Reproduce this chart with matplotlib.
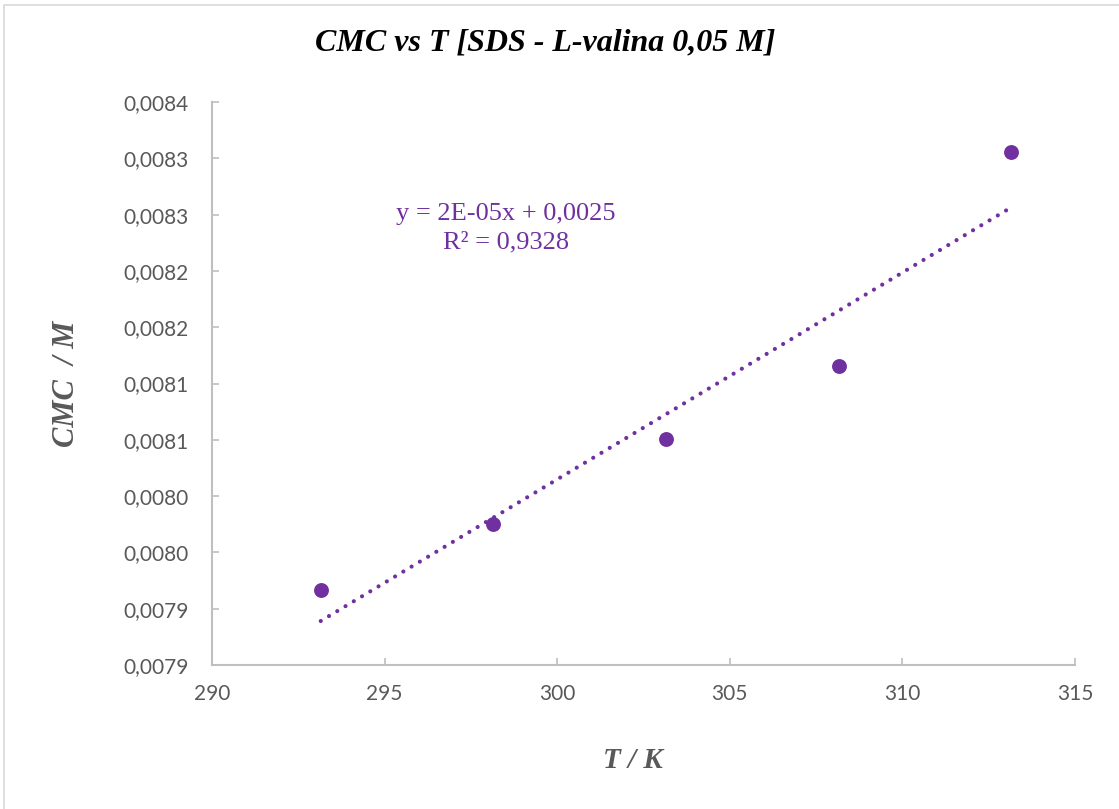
import numpy as np
import matplotlib
matplotlib.use("Agg")
import matplotlib.pyplot as plt
from matplotlib.patches import Rectangle

# Temperature (K) and critical micelle concentration (M)
temperature = [293.15, 298.15, 303.15, 308.15, 313.15]
cmc = [0.0079166, 0.0079752, 0.0080507, 0.0081155, 0.0083056]

xticks = [290, 295, 300, 305, 310, 315]
xtick_labels = ["290", "295", "300", "305", "310", "315"]
yticks = [0.00785, 0.00790, 0.00795, 0.00800, 0.00805, 0.00810,
          0.00815, 0.00820, 0.00825, 0.00830, 0.00835]
ytick_labels = ["0,0079", "0,0079", "0,0080", "0,0080", "0,0081", "0,0081",
                "0,0082", "0,0082", "0,0083", "0,0083", "0,0084"]

title = "CMC vs T [SDS - L-valina 0,05 M]"
xlabel = "T / K"
ylabel = "CMC  / M"
eq_text = "y = 2E-05x + 0,0025\nR² = 0,9328"

purple = "#7030A0"
grey_text = "#595959"
axis_grey = "#BFBFBF"

W, H = 1119, 809
fig = plt.figure(figsize=(W / 100, H / 100), dpi=100)
fig.patch.set_facecolor("white")

# thin frame around the chart area
fig.add_artist(Rectangle((4 / W, -0.01), 1.02, 1 - 5 / H + 0.01,
                         transform=fig.transFigure, fill=False,
                         edgecolor="#D9D9D9", linewidth=1.2))

ax = fig.add_axes([212 / W, 1 - 665 / H, (1075 - 212) / W, (665 - 102) / H])
ax.set_xlim(290, 315)
ax.set_ylim(0.00785, 0.00835)

ax.scatter(temperature, cmc, s=115, color=purple, zorder=3, linewidths=0)

# linear trendline
slope, intercept = np.polyfit(temperature, cmc, 1)
xt = np.array([temperature[0], temperature[-1]])
ax.plot(xt, slope * xt + intercept, color=purple, linewidth=3.0,
        linestyle=(0, (0.01, 2.3)), dash_capstyle="round", zorder=2)

fig.text(506 / W, 1 - 228 / H, eq_text, color=purple, fontsize=19,
         family="Liberation Serif", ha="center", va="center",
         linespacing=1.4)

for side in ("top", "right"):
    ax.spines[side].set_visible(False)
for side in ("left", "bottom"):
    ax.spines[side].set_color(axis_grey)
    ax.spines[side].set_linewidth(1.5)

ax.set_xticks(xticks)
ax.set_xticklabels(xtick_labels)
ax.set_yticks(yticks)
ax.set_yticklabels(ytick_labels)
ax.tick_params(axis="both", direction="in", length=5, width=1.2,
               color=axis_grey, labelcolor=grey_text, labelsize=15)
ax.tick_params(axis="x", pad=14)
ax.tick_params(axis="y", pad=17)
for lab in ax.get_xticklabels() + ax.get_yticklabels():
    lab.set_family("Lato")

fig.text(545 / W, 1 - 43 / H, title, ha="center", va="center",
         fontsize=23, fontweight="bold", fontstyle="italic",
         family="Liberation Serif", color="black")
fig.text(633 / W, 1 - 760 / H, xlabel, ha="center", va="center",
         fontsize=21, fontweight="bold", fontstyle="italic",
         family="Liberation Serif", color=grey_text)
fig.text(66 / W, 1 - 384 / H, ylabel, ha="center", va="center",
         rotation=90, fontsize=22, fontweight="bold", fontstyle="italic",
         family="Liberation Serif", color=grey_text)

fig.savefig("out.png", dpi=100, facecolor="white")
